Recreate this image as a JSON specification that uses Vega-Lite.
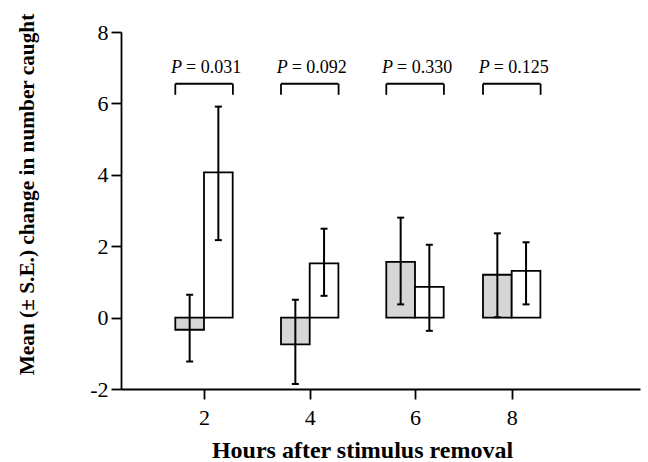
{
  "$schema": "https://vega.github.io/schema/vega-lite/v6.json",
  "autosize": {"type": "none"},
  "padding": {"left": 121, "top": 32, "right": 8, "bottom": 73},
  "width": 519,
  "height": 357,
  "config": {
    "view": {"stroke": null},
    "font": "Liberation Serif",
    "axis": {"grid": false, "domainColor": "black", "tickColor": "black", "domainWidth": 1.8, "tickWidth": 1.8, "labelColor": "black", "titleColor": "black", "titleFontWeight": "bold", "tickSize": 10}
  },
  "datasets": {
    "bars": [
      {"hour": 2, "group": "gray", "mean": -0.34, "lo": -1.23, "hi": 0.64},
      {"hour": 2, "group": "white", "mean": 4.07, "lo": 2.17, "hi": 5.91},
      {"hour": 4, "group": "gray", "mean": -0.75, "lo": -1.86, "hi": 0.5},
      {"hour": 4, "group": "white", "mean": 1.52, "lo": 0.61, "hi": 2.49},
      {"hour": 6, "group": "gray", "mean": 1.56, "lo": 0.37, "hi": 2.8},
      {"hour": 6, "group": "white", "mean": 0.86, "lo": -0.37, "hi": 2.04},
      {"hour": 8, "group": "gray", "mean": 1.2, "lo": 0.01, "hi": 2.36},
      {"hour": 8, "group": "white", "mean": 1.31, "lo": 0.37, "hi": 2.11}
    ],
    "pvals": [
      {"hour": 2, "p": "0.031"},
      {"hour": 4, "p": "0.092"},
      {"hour": 6, "p": "0.330"},
      {"hour": 8, "p": "0.125"}
    ]
  },
  "encoding": {
    "x": {
      "field": "hour", "type": "quantitative",
      "scale": {"type": "linear", "domain": [0, 2, 4, 6, 8, 10], "range": [0, 83, 188.7, 294, 390.7, 519], "nice": false, "zero": false},
      "axis": {"values": [2, 4, 6, 8], "labelFont": "Liberation Serif", "labelFontSize": 22, "labelPadding": 8, "title": "Hours after stimulus removal", "titleFont": "Liberation Serif", "titleFontSize": 24, "titleBaseline": "alphabetic", "titleX": 241, "titleY": 68, "titleAnchor": null, "titleAlign": "center"}
    }
  },
  "layer": [
    {
      "data": {"name": "bars"},
      "transform": [{"filter": "datum.group === 'gray'"}],
      "mark": {"type": "bar", "width": 28.7, "xOffset": -14.35, "fill": "#d6d6d6", "stroke": "black", "strokeWidth": 1.8},
      "encoding": {
        "y": {"field": "mean", "type": "quantitative",
          "scale": {"domain": [-2, 8], "nice": false, "zero": false},
          "axis": {"values": [-2, 0, 2, 4, 6, 8], "labelExpr": "datum.value", "labelFont": "Liberation Serif", "labelFontSize": 22, "labelPadding": 3, "title": "Mean (± S.E.) change in number caught", "titleFont": "Liberation Serif", "titleFontSize": 21.3, "titleBaseline": "alphabetic", "titleX": -88, "titleY": 162, "titleAngle": -90, "titleAlign": "center"}},
        "y2": {"datum": 0}
      }
    },
    {
      "data": {"name": "bars"},
      "transform": [{"filter": "datum.group === 'white'"}],
      "mark": {"type": "bar", "width": 28.7, "xOffset": 14.35, "fill": "white", "stroke": "black", "strokeWidth": 1.8},
      "encoding": {
        "y": {"field": "mean", "type": "quantitative"},
        "y2": {"datum": 0}
      }
    },
    {
      "mark": {"type": "rule", "color": "black", "strokeWidth": 1.8},
      "encoding": {"y": {"datum": 0}}
    },
    {
      "data": {"name": "bars"},
      "transform": [{"filter": "datum.group === 'gray'"}],
      "mark": {"type": "rule", "xOffset": -14.35, "color": "black", "strokeWidth": 2},
      "encoding": {
        "y": {"field": "lo", "type": "quantitative"},
        "y2": {"field": "hi"}
      }
    },
    {
      "data": {"name": "bars"},
      "transform": [{"filter": "datum.group === 'white'"}],
      "mark": {"type": "rule", "xOffset": 14.35, "color": "black", "strokeWidth": 2},
      "encoding": {
        "y": {"field": "lo", "type": "quantitative"},
        "y2": {"field": "hi"}
      }
    },
    {
      "data": {"name": "bars"},
      "transform": [{"filter": "datum.group === 'gray'"}, {"fold": ["lo", "hi"], "as": ["end", "val"]}],
      "mark": {"type": "tick", "orient": "horizontal", "size": 7, "thickness": 2, "xOffset": -14.35, "color": "black", "opacity": 1},
      "encoding": {
        "y": {"field": "val", "type": "quantitative"}
      }
    },
    {
      "data": {"name": "bars"},
      "transform": [{"filter": "datum.group === 'white'"}, {"fold": ["lo", "hi"], "as": ["end", "val"]}],
      "mark": {"type": "tick", "orient": "horizontal", "size": 7, "thickness": 2, "xOffset": 14.35, "color": "black", "opacity": 1},
      "encoding": {
        "y": {"field": "val", "type": "quantitative"}
      }
    },
    {
      "data": {"name": "pvals"},
      "mark": {"type": "rule", "xOffset": -28.7, "x2Offset": 28.7, "color": "black", "strokeWidth": 1.8},
      "encoding": {"x2": {"field": "hour"}, "y": {"datum": 6.55}}
    },
    {
      "data": {"name": "pvals"},
      "mark": {"type": "rule", "xOffset": -28.7, "color": "black", "strokeWidth": 1.8},
      "encoding": {"y": {"datum": 6.24}, "y2": {"datum": 6.55}}
    },
    {
      "data": {"name": "pvals"},
      "mark": {"type": "rule", "xOffset": 28.9, "color": "black", "strokeWidth": 1.8},
      "encoding": {"y": {"datum": 6.24}, "y2": {"datum": 6.55}}
    },
    {
      "data": {"name": "pvals"},
      "mark": {"type": "text", "text": "P", "fontStyle": "italic", "font": "Liberation Serif", "fontSize": 18, "align": "right", "baseline": "alphabetic", "dx": -22, "color": "black"},
      "encoding": {"y": {"datum": 6.84}}
    },
    {
      "data": {"name": "pvals"},
      "transform": [{"calculate": "'= ' + datum.p", "as": "label"}],
      "mark": {"type": "text", "font": "Liberation Serif", "fontSize": 18, "align": "left", "baseline": "alphabetic", "dx": -18, "color": "black"},
      "encoding": {"y": {"datum": 6.84}, "text": {"field": "label"}}
    }
  ]
}
